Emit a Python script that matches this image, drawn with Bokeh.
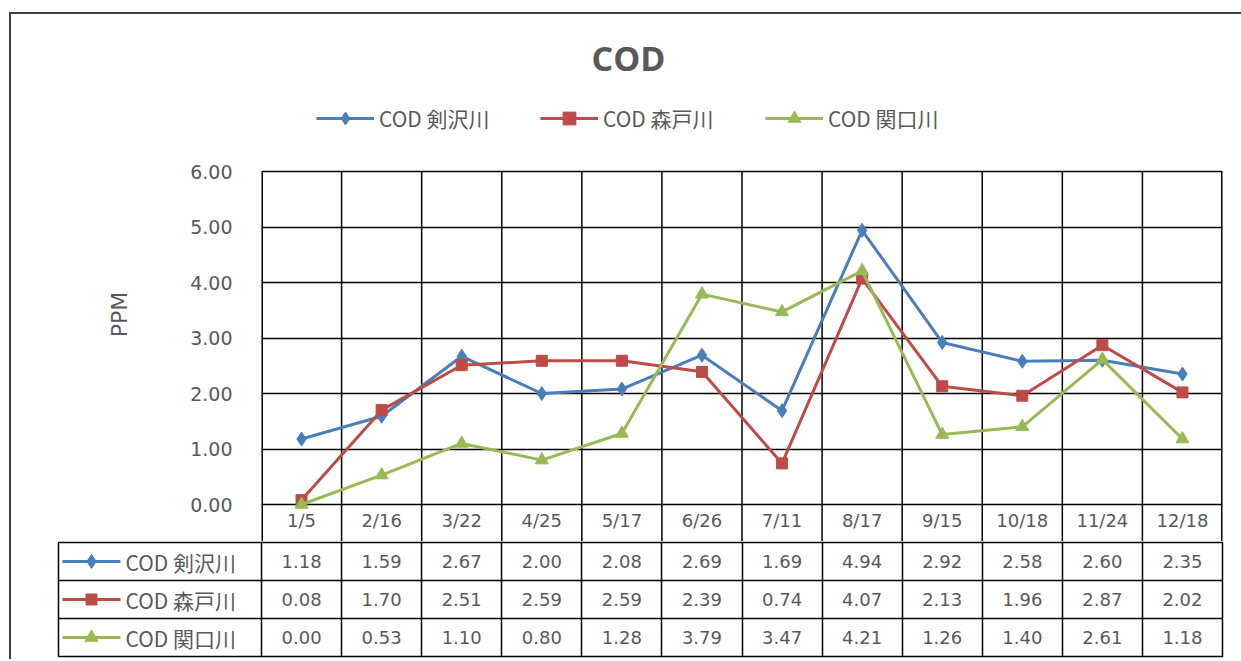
from bokeh.plotting import figure
from bokeh.models import (Range1d, FixedTicker, ColumnDataSource, PrintfTickFormatter,
                          Legend, LegendItem)
from bokeh.core.properties import value
from bokeh.embed import file_html
from bokeh.resources import INLINE

# ---------------- data ----------------
dates = ["1/5", "2/16", "3/22", "4/25", "5/17", "6/26", "7/11", "8/17", "9/15", "10/18", "11/24", "12/18"]
series_names = ["COD 剣沢川", "COD 森戸川", "COD 関口川"]
kenzawa = [1.18, 1.59, 2.67, 2.00, 2.08, 2.69, 1.69, 4.94, 2.92, 2.58, 2.60, 2.35]
morito = [0.08, 1.70, 2.51, 2.59, 2.59, 2.39, 0.74, 4.07, 2.13, 1.96, 2.87, 2.02]
sekiguchi = [0.00, 0.53, 1.10, 0.80, 1.28, 3.79, 3.47, 4.21, 1.26, 1.40, 2.61, 1.18]
y_ticks = [0, 1, 2, 3, 4, 5, 6]
y_title = "PPM"
chart_title = "COD"

# ---------------- styles / layout (page pixels) ----------------
colors = ["#4A7EBB", "#BE4B48", "#98B954"]
markers = ["diamond", "square", "triangle"]
marker_sizes = [14, 11, 13]
TXT = "#595959"
BORDER = "#404040"
W = 1241
HT, HA, HB = 87, 454, 118           # heights of the three stacked parts
PLOT_L, PLOT_R = 261, 1222          # plot area left / right
PLOT_T, PLOT_B = 171, 504           # page y of the top tick and of 0
HEAD_B = HT + HA                    # bottom of the header row (page y)
LABEL_L = 58                        # left edge of the table's label column
ROW_H = 38
KEY_W = 58
LEG_GLYPH_H = 32
PXU = (PLOT_B - PLOT_T) / (y_ticks[-1] - y_ticks[0])
PXX = (PLOT_R - PLOT_L) / len(dates)
LEG_FONT = "Noto Sans CJK JP"
LEG_SIZE = "21px"

xs = [i + 0.5 for i in range(len(dates))]
col_edges = list(range(len(dates) + 1))
all_vals = [kenzawa, morito, sekiguchi]


def vline_bg(top):
    return "linear-gradient(%s,%s) 9px %dpx / 2px 100%% no-repeat" % (BORDER, BORDER, top)


# ================= top: title =================
T = figure(width=W, height=HT, output_backend="svg", toolbar_location=None,
           x_range=Range1d(0, W), y_range=Range1d(HT, 0),
           min_border=0, x_axis_location=None, y_axis_location=None)
T.grid.visible = False
T.outline_line_color = None
T.border_fill_alpha = 0
T.background_fill_alpha = 0
T.styles = {"background": vline_bg(12) + ", linear-gradient(%s,%s) 9px 12px / 100%% 2px no-repeat"
            % (BORDER, BORDER)}
T.text(x=[628], y=[57], text=[chart_title], text_align="center", text_baseline="middle",
       text_font=value("Open Sans"), text_font_size="34px", text_font_style="bold",
       text_color=TXT)

# ================= main plot + legend + header row =================
y_lo = y_ticks[0] - (HEAD_B - PLOT_B) / PXU
y_hi = y_ticks[-1] + (PLOT_T - HT) / PXU
A = figure(width=W, height=HA, output_backend="svg", toolbar_location=None,
           x_range=Range1d(0, len(dates)), y_range=Range1d(y_lo, y_hi),
           min_border_left=PLOT_L, min_border_right=W - PLOT_R, min_border_top=0,
           min_border_bottom=0)
A.border_fill_alpha = 0
A.background_fill_alpha = 0
A.outline_line_color = None
A.styles = {"background": vline_bg(0)}
A.xgrid.visible = False
A.ygrid.ticker = FixedTicker(ticks=y_ticks)
A.ygrid.grid_line_color = "black"
A.ygrid.grid_line_width = 1.5
A.ygrid.grid_line_alpha = 1
# column borders: through the plot area and the header row
A.segment(x0=col_edges, y0=[y_lo] * len(col_edges), x1=col_edges,
          y1=[y_ticks[-1]] * len(col_edges), line_color="black",
          line_width=[3] + [1.5] * (len(col_edges) - 2) + [3])

ya = A.yaxis[0]
ya.ticker = FixedTicker(ticks=y_ticks)
ya.formatter = PrintfTickFormatter(format="%.2f")
ya.axis_line_color = None
ya.major_tick_line_color = None
ya.minor_tick_line_color = None
ya.major_tick_out = 0
ya.major_label_standoff = 29
ya.major_label_text_font = "DejaVu Sans"
ya.major_label_text_font_size = "19px"
ya.major_label_text_color = TXT
ya.axis_label = y_title
ya.axis_label_standoff = 55
ya.axis_label_text_font = "DejaVu Sans"
ya.axis_label_text_font_size = "22px"
ya.axis_label_text_font_style = "normal"
ya.axis_label_text_color = TXT

# x axis: its labels sit inside the header row, above the axis line
xa = A.xaxis[0]
xa.ticker = FixedTicker(ticks=xs)
xa.major_label_overrides = {x: d for x, d in zip(xs, dates)}
xa.axis_line_color = None
xa.major_tick_line_color = None
xa.minor_tick_line_color = None
xa.major_tick_out = 0
xa.major_tick_in = 0
xa.major_label_standoff = -32
xa.major_label_text_font = "DejaVu Sans"
xa.major_label_text_font_size = "18px"
xa.major_label_text_color = TXT

rends = []
for name, vals, c, m, s in zip(series_names, all_vals, colors, markers, marker_sizes):
    src = ColumnDataSource(dict(x=xs, y=vals))
    ln = A.line("x", "y", source=src, line_color=c, line_width=3)
    sc = A.scatter("x", "y", source=src, marker=m, size=s, fill_color=c, line_color=c)
    rends.append([ln, sc])

top_starts = [316, 540, 765]      # page x of each legend key
for k in range(len(series_names)):
    A.add_layout(Legend(
        items=[LegendItem(label=series_names[k], renderers=rends[k])],
        location=(top_starts[k] - PLOT_L, (HEAD_B - 118) - LEG_GLYPH_H / 2),
        orientation="horizontal", border_line_color=None, background_fill_alpha=0,
        padding=0, margin=0, spacing=0, glyph_width=KEY_W, glyph_height=LEG_GLYPH_H,
        label_standoff=5, label_text_font=LEG_FONT, label_text_font_size=LEG_SIZE,
        label_text_color=TXT))

# ================= data table rows =================
nrows = len(series_names)
B = figure(width=W, height=HB, output_backend="svg", toolbar_location=None,
           x_range=Range1d(-(PLOT_L - LABEL_L) / PXX, len(dates)), y_range=Range1d(-nrows, 0),
           min_border_left=LABEL_L, min_border_right=W - PLOT_R,
           min_border_top=1, min_border_bottom=HB - 1 - nrows * ROW_H,
           x_axis_location=None, y_axis_location=None)
B.border_fill_alpha = 0
B.background_fill_alpha = 0
B.styles = {"background": vline_bg(0)}
B.outline_line_color = "black"
B.outline_line_width = 1.5
B.xgrid.ticker = FixedTicker(ticks=col_edges)
B.ygrid.ticker = FixedTicker(ticks=[-(k + 1) for k in range(nrows - 1)])
for g in (B.xgrid, B.ygrid):
    g.grid_line_color = "black"
    g.grid_line_width = 1.5
    g.grid_line_alpha = 1

for k, vals in enumerate(all_vals):
    src = ColumnDataSource(dict(x=xs, y=[-(k + 0.5)] * len(vals), t=["%.2f" % v for v in vals]))
    B.text("x", "y", text="t", source=src, text_align="center", text_baseline="middle",
           text_font=value("DejaVu Sans"), text_font_size="18px", text_color=TXT)

# row keys of the table (line + marker + series name)
kx0 = (62 - PLOT_L) / PXX
for k in range(nrows):
    yy = -(k + 0.5)
    B.segment(x0=[kx0], y0=[yy], x1=[kx0 + KEY_W / PXX], y1=[yy],
              line_color=colors[k], line_width=3)
    B.scatter(x=[kx0 + KEY_W / 2 / PXX], y=[yy], marker=markers[k],
              size=marker_sizes[k], fill_color=colors[k], line_color=colors[k])
    B.text(x=[kx0 + (KEY_W + 5) / PXX], y=[yy], text=[series_names[k]],
           text_align="left", text_baseline="middle", text_font=value(LEG_FONT),
           text_font_size=LEG_SIZE, text_color=TXT)

open("out.html", "w").write(file_html([T, A, B], INLINE))
